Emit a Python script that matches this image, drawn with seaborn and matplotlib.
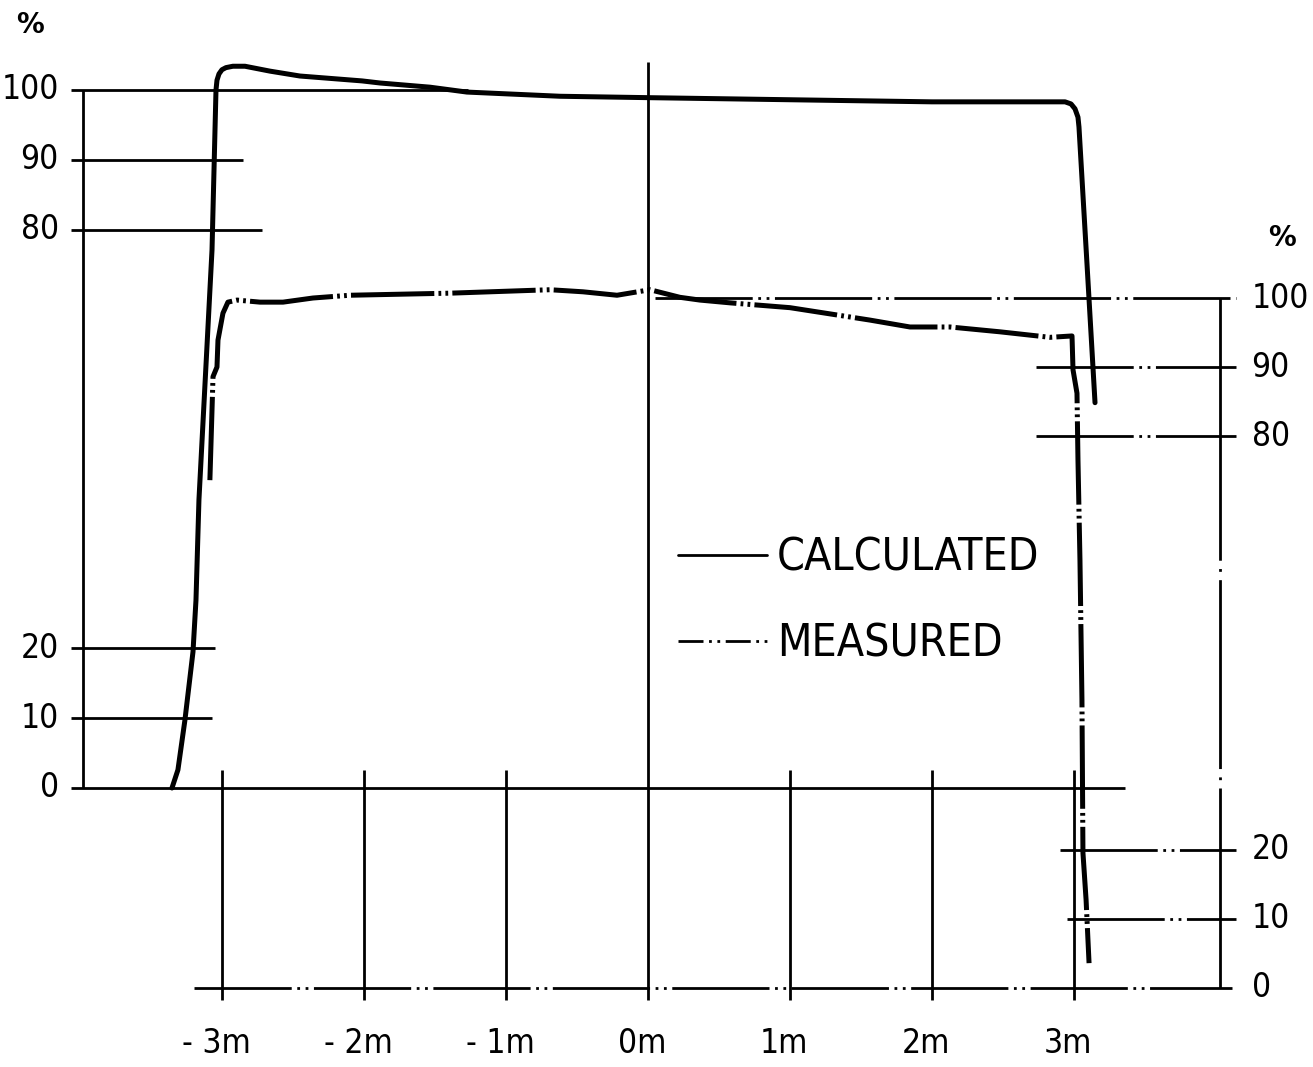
import numpy as np
import matplotlib.pyplot as plt
import matplotlib.font_manager as fm
from matplotlib.lines import Line2D
import seaborn as sns
import pandas as pd

sns.set_style("white")
plt.rcParams["lines.scale_dashes"] = False
plt.rcParams["font.family"] = ["DejaVu Sans"]
plt.rcParams["text.color"] = "black"

# narrow lettering if a condensed sans file is installed, else DejaVu a bit smaller
NARROW = None
for f in fm.fontManager.ttflist:
    fn = f.fname.lower()
    if ("condensed" in fn or "narrow" in fn) and "mono" not in fn and "serif" not in fn \
            and "bold" not in fn and "oblique" not in fn and "italic" not in fn:
        NARROW = f.fname
        break


def font(size):
    if NARROW:
        return fm.FontProperties(fname=NARROW, size=size)
    return fm.FontProperties(family="DejaVu Sans", size=size * 0.86)


# calculated curve (left scale, %), position in metres
calc_x = [-3.352, -3.31, -3.261, -3.204, -3.183, -3.162, -3.07, -3.042, -3.035, -3.021,
          -3.0, -2.972, -2.923, -2.838, -2.662, -2.451, -2.014, -1.887, -1.535, -1.275,
          -0.62, 0.0, 1.0, 2.0, 2.937, 2.979, 3.007, 3.028, 3.035, 3.092, 3.148]
calc_y = [0, 2.6, 9.7, 19.5, 26.9, 41.3, 77.1, 100.0, 101.4, 102.3,
          102.9, 103.2, 103.4, 103.4, 102.7, 102.0, 101.3, 101.0, 100.4, 99.7,
          99.1, 98.9, 98.6, 98.3, 98.3, 98.0, 97.3, 96.1, 94.7, 74.9, 55.2]

# measured curve (right scale, %)
meas_x = [-3.085, -3.063, -3.035, -3.028, -2.993, -2.958, -2.894, -2.732, -2.570, -2.359,
          -2.099, -1.394, -0.690, -0.458, -0.218, 0.014, 0.225, 0.366, 0.577, 1.0,
          1.563, 1.845, 2.127, 2.479, 2.831, 2.986, 2.993, 3.021, 3.028, 3.042,
          3.056, 3.063, 3.085, 3.106]
meas_y = [73.6, 88.6, 90.0, 93.9, 97.8, 99.4, 99.7, 99.4, 99.4, 100.0,
          100.4, 100.7, 101.2, 100.9, 100.4, 101.2, 100.1, 99.7, 99.3, 98.6,
          96.8, 95.8, 95.8, 95.1, 94.3, 94.5, 89.6, 86.2, 76.5, 62.0,
          41.7, 19.6, 12.8, 3.6]

x_ticks = [-3, -2, -1, 0, 1, 2, 3]
x_labels = ["- 3m", "- 2m", "- 1m", "0m", "1m", "2m", "3m"]
left_ticks = [100, 90, 80, 20, 10, 0]
right_ticks = [100, 90, 80, 20, 10, 0]

calc_df = pd.DataFrame({"pos": calc_x, "pct": calc_y})
meas_df = pd.DataFrame({"pos": meas_x, "pct": meas_y})

DDOT = (0, (70, 4, 2, 4, 2, 4))
LW_CURVE = 3.6
LW_THIN = 2.0

fig = plt.figure(figsize=(13.13, 10.67), dpi=100)
ax = fig.add_axes([0, 0, 1, 1])
ax2 = ax.twinx()
for a in (ax, ax2):
    a.set_xlim(-4.563, 4.683)
ax.set_ylim(-39.97, 112.89)
ax2.set_ylim(-11.45, 143.19)

# left scale frame
ax.vlines(-3.98, 0, 100, color="black", lw=LW_THIN)
left_ext = {100: -1.27, 90: -2.85, 80: -2.72, 20: -3.05, 10: -3.07, 0: 3.36}
for v in left_ticks:
    ax.hlines(v, -4.06, left_ext[v], color="black", lw=LW_THIN)
    ax.text(-4.15, v, str(v), ha="right", va="center", fontproperties=font(24))
ax.text(-4.35, 109.3, "%", ha="center", va="center", fontsize=20, family="DejaVu Sans",
        fontweight="bold")

# metre grid
for t in x_ticks:
    top = 104.0 if t == 0 else 2.6
    ax.vlines(t, -30.4, top, color="black", lw=LW_THIN)
for t, lab in zip(x_ticks, x_labels):
    ax.text(t - 0.04, -36.6, lab, ha="center", va="center", fontproperties=font(24))

# right scale frame
ax2.vlines(4.03, 0, 100, color="black", lw=LW_THIN,
           linestyles=[(0, (144, 6, 2, 6, 136, 6, 2, 6, 400, 1))])
right_ext = {100: 0.05, 90: 2.73, 80: 2.73, 20: 2.90, 10: 2.95, 0: -3.20}
for v in right_ticks:
    end = 4.11 if v == 0 else 4.14
    ax2.hlines(v, right_ext[v], end, color="black", lw=LW_THIN, linestyles=[DDOT])
    ax2.text(4.25, v, str(v), ha="left", va="center", fontproperties=font(24))
ax2.text(4.465, 108.7, "%", ha="center", va="center", fontsize=20, family="DejaVu Sans",
         fontweight="bold")

# curves
sns.lineplot(data=calc_df, x="pos", y="pct", ax=ax, color="black", lw=LW_CURVE,
             sort=False, estimator=None)
sns.lineplot(data=meas_df, x="pos", y="pct", ax=ax2, color="black", lw=LW_CURVE,
             sort=False, estimator=None, linestyle=(0, (60, 3, 2, 3, 2, 3)))
ax.axis("off")
ax2.axis("off")

handles = [Line2D([], [], color="black", lw=LW_THIN),
           Line2D([], [], color="black", lw=LW_THIN, linestyle=(0, (18, 4, 2, 4, 2, 4)))]
leg_font = fm.FontProperties(fname=NARROW, size=32) if NARROW else \
    fm.FontProperties(family="DejaVu Sans", size=30)
leg = ax2.legend(handles, ["CALCULATED", "MEASURED"], loc="center left",
                 bbox_to_anchor=(678 / 1313, 1 - 601 / 1067), frameon=False,
                 handlelength=2.0, handletextpad=0.22, labelspacing=0.95,
                 borderpad=0, borderaxespad=0, prop=leg_font)

fig.savefig("out.png", dpi=100)
